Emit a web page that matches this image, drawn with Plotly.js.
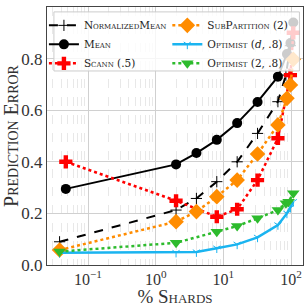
<!DOCTYPE html>
<html><head><meta charset="utf-8">
<script src="https://cdn.plot.ly/plotly-3.0.1.min.js"></script>
<style>html,body{margin:0;padding:0;background:#fff}#c{width:307px;height:307px}</style>
</head><body><div id="c"></div>
<script>
// Data
const meanX = [0.047, 2, 4, 8, 16, 32, 64, 87, 98, 108];
const meanY = [0.295, 0.39, 0.434, 0.485, 0.55, 0.632, 0.73, 0.818, 0.86, 0.94];
const normX = [0.038, 2, 4, 8, 16, 32, 64, 84, 98];
const normY = [0.09, 0.213, 0.258, 0.323, 0.40, 0.51, 0.633, 0.736, 0.85];
const scannX = [0.047, 2, 8, 16, 32, 64, 98, 108];
const scannY = [0.40, 0.249, 0.187, 0.216, 0.329, 0.491, 0.736, 0.90];
const subX = [0.038, 2, 4, 8, 16, 32, 64, 87, 98, 108];
const subY = [0.058, 0.168, 0.207, 0.265, 0.329, 0.43, 0.543, 0.646, 0.698, 0.797];
const optDX = [0.038, 2, 4, 8, 16, 32, 64, 87, 98, 108];
const optDY = [0.047, 0.048, 0.05, 0.065, 0.08, 0.107, 0.155, 0.2, 0.222, 0.245];
const opt2X = [0.038, 2, 8, 16, 32, 64, 84, 92, 108];
const opt2Y = [0.052, 0.086, 0.129, 0.151, 0.181, 0.213, 0.239, 0.245, 0.278];
const xTickVals = [0.1, 1, 10, 100];
const xTickText = ['10<sup>−1</sup>', '10<sup>0</sup>', '10<sup>1</sup>', '10<sup>2</sup>'];
const yTickVals = [0, 0.2, 0.4, 0.6, 0.8, 1.0];
const yTickText = ['0.0', '0.2', '0.4', '0.6', '0.8', '1.0'];

const serif = 'Liberation Serif, DejaVu Serif, serif';
const legSerif = 'DejaVu Serif, Liberation Serif, serif';
const dItal = '<i><span style="font-variant:normal">d</span></i>';
const traces = [
  {name: 'NormalizedMean', legend: 'legend', x: normX, y: normY, mode: 'lines+markers',
   line: {color: '#000', width: 2, dash: 'dash'},
   marker: {symbol: 'cross-thin-open', size: 8, color: '#000', line: {color: '#000', width: 1}}},
  {name: 'Mean', legend: 'legend', x: meanX, y: meanY, mode: 'lines+markers',
   line: {color: '#000', width: 2},
   marker: {symbol: 'circle', size: 10, color: '#000'}},
  {name: 'Scann (.5)', legend: 'legend', x: scannX, y: scannY, mode: 'lines+markers',
   line: {color: '#ff0000', width: 2.5, dash: 'dot'},
   marker: {symbol: 'cross', size: 11, color: '#ff0000'}},
  {name: 'SubPartition (2)', legend: 'legend2', x: subX, y: subY, mode: 'lines+markers',
   line: {color: '#ff8c00', width: 2.5, dash: 'dot'},
   marker: {symbol: 'diamond', size: 12, color: '#ff8c00'}},
  {name: 'Optimist (' + dItal + ', .8)', legend: 'legend2', x: optDX, y: optDY, mode: 'lines+markers',
   line: {color: '#1ab4f0', width: 2.5},
   marker: {symbol: 'y-down-open', size: 6, color: '#1ab4f0', line: {color: '#1ab4f0', width: 1}}},
  {name: 'Optimist (2, .8)', legend: 'legend2', x: opt2X, y: opt2Y, mode: 'lines+markers',
   line: {color: '#2dbb2d', width: 2.5, dash: 'dot'},
   marker: {symbol: 'triangle-down', size: 11, color: '#2dbb2d'}}
];
const legFont = {family: legSerif, size: 10.5, color: '#222', variant: 'small-caps'};
const layout = {
  width: 307, height: 307,
  margin: {l: 47, r: 4, t: 7, b: 42},
  paper_bgcolor: '#fff', plot_bgcolor: '#fff',
  font: {family: serif, color: '#333'},
  showlegend: true,
  legend: {x: -0.012, y: 0.985, xanchor: 'left', yanchor: 'top', itemwidth: 30,
    bgcolor: 'rgba(0,0,0,0)', borderwidth: 0, font: legFont},
  legend2: {x: 0.47, y: 0.985, xanchor: 'left', yanchor: 'top', itemwidth: 30,
    bgcolor: 'rgba(0,0,0,0)', borderwidth: 0, font: legFont},
  shapes: [{type: 'rect', xref: 'paper', yref: 'paper', layer: 'above',
    x0: 0.027, x1: 0.986, y0: 0.752, y1: 0.981,
    fillcolor: 'rgba(255,255,255,0.8)', line: {color: '#cccccc', width: 1}}],
  xaxis: {type: 'log', range: [-1.606, 2.177],
    tickvals: xTickVals, ticktext: xTickText, ticks: '',
    showgrid: true, gridcolor: '#d0d0d0', gridwidth: 1,
    minor: {dtick: 'D1', showgrid: true, gridcolor: '#e8e8e8', griddash: 'dash', ticks: ''},
    showline: true, mirror: true, linecolor: '#444', linewidth: 1, zeroline: false,
    tickfont: {family: serif, size: 16, color: '#333'},
    title: {text: '% Shards', font: {family: serif, size: 19, color: '#333', variant: 'small-caps'}, standoff: 15}},
  yaxis: {range: [0, 1.0], tickvals: yTickVals, ticktext: yTickText, ticks: '',
    showgrid: true, gridcolor: '#d0d0d0', gridwidth: 1,
    showline: true, mirror: true, linecolor: '#444', linewidth: 1, zeroline: false,
    tickfont: {family: serif, size: 17, color: '#333'},
    title: {text: 'Prediction Error', font: {family: serif, size: 20, color: '#333', variant: 'small-caps'}, standoff: 2}}
};
Plotly.newPlot('c', traces, layout, {displayModeBar: false, staticPlot: true});
</script></body></html>
